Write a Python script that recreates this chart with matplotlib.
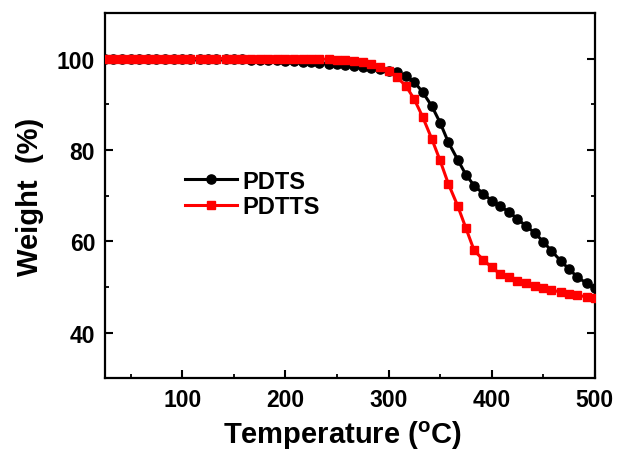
import matplotlib
matplotlib.use("Agg")
import matplotlib.pyplot as plt
from matplotlib.ticker import MultipleLocator

plt.rcParams['font.family'] = ['Liberation Sans', 'DejaVu Sans']
plt.rcParams['font.weight'] = 'bold'
plt.rcParams['mathtext.fontset'] = 'custom'
plt.rcParams['mathtext.rm'] = 'Liberation Sans:bold'
plt.rcParams['mathtext.bf'] = 'Liberation Sans:bold'

temperature = [25, 33, 42, 50, 58, 67, 75, 83, 92, 100, 108, 117, 125, 133, 142,
               150, 158, 167, 175, 183, 192, 200, 208, 217, 225, 233, 242, 250,
               258, 267, 275, 283, 292, 300, 308, 317, 325, 333, 342, 350, 358,
               367, 375, 383, 392, 400, 408, 417, 425, 433, 442, 450, 458, 467,
               475, 483, 492, 500]

pdts = [100.0, 100.0, 100.0, 100.0, 100.0, 100.0, 100.0, 100.0, 100.0, 100.0,
        100.0, 100.0, 100.0, 99.95, 99.9, 99.9, 99.85, 99.8, 99.75, 99.7,
        99.6, 99.55, 99.45, 99.3, 99.2, 99.05, 98.9, 98.75, 98.6, 98.4,
        98.2, 97.95, 97.7, 97.4, 97.0, 96.2, 94.9, 92.7, 89.6, 86.0,
        81.7, 77.9, 74.6, 72.2, 70.4, 68.9, 67.7, 66.4, 64.9, 63.4,
        61.8, 59.9, 57.9, 55.7, 53.9, 52.2, 50.8, 49.7]

pdtts = [100.0, 100.0, 100.0, 100.0, 100.0, 100.0, 100.0, 100.0, 100.0, 100.0,
         100.0, 100.0, 100.0, 100.0, 100.0, 100.0, 100.0, 100.0, 100.0, 100.0,
         100.0, 100.0, 100.0, 100.0, 100.0, 99.95, 99.85, 99.8, 99.6, 99.5,
         99.2, 98.8, 98.2, 97.2, 96.0, 94.0, 91.1, 87.3, 82.4, 77.7,
         72.6, 67.8, 62.9, 58.0, 55.9, 54.3, 52.9, 52.1, 51.4, 50.8,
         50.3, 49.8, 49.35, 48.85, 48.5, 48.15, 47.85, 47.6]

x_ticks = [100, 200, 300, 400, 500]
y_ticks = [40, 60, 80, 100]

fig = plt.figure(figsize=(6.17, 4.52), dpi=100)
ax = fig.add_axes([0.170, 0.161, 0.794, 0.808])

ax.plot(temperature, pdts, color='black', lw=2.2, marker='o', ms=6.6,
        label='PDTS', zorder=3)
ax.plot(temperature, pdtts, color='#ff0000', lw=2.2, marker='s', ms=6.0,
        label='PDTTS', zorder=4)

ax.set_xlim(25, 500)
ax.set_ylim(30, 110)
ax.set_xticks(x_ticks)
ax.set_yticks(y_ticks)
ax.xaxis.set_minor_locator(MultipleLocator(50))
ax.yaxis.set_minor_locator(MultipleLocator(10))

for s in ax.spines.values():
    s.set_linewidth(1.6)

ax.tick_params(which='major', direction='in', length=6, width=1.5,
               labelsize=16.5, pad=7, right=True, top=False)
ax.tick_params(which='minor', direction='in', length=3, width=1.3,
               right=True, top=False)
for lab in ax.get_xticklabels() + ax.get_yticklabels():
    lab.set_fontweight('bold')

ax.set_xlabel(r'Temperature ($^{\mathbf{o}}$C)', fontsize=21, fontweight='bold')
ax.set_ylabel('Weight  (%)', fontsize=21, fontweight='bold')
ax.xaxis.set_label_coords(0.485, -0.11)
ax.yaxis.set_label_coords(-0.125, 0.5)

leg = ax.legend(loc='center left', bbox_to_anchor=(0.14, 0.505), frameon=False,
                fontsize=17, handlelength=2.2, handletextpad=0.2,
                labelspacing=0.1, borderpad=0)
for t in leg.get_texts():
    t.set_fontweight('bold')

fig.savefig('out.png', dpi=100)
